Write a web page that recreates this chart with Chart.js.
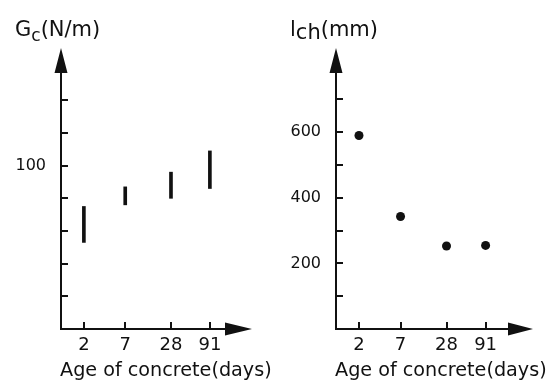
<!DOCTYPE html>
<html>
<head>
<meta charset="utf-8">
<script src="https://cdn.jsdelivr.net/npm/chart.js@4/dist/chart.umd.min.js"></script>
<style>
  html, body { margin: 0; padding: 0; background: #fff; }
  #wrap { position: relative; width: 550px; height: 387px; overflow: hidden; }
  canvas { position: absolute; top: 0; }
  .ytitle { position: absolute; top: 19px; font: 21px "DejaVu Sans", sans-serif; color: #111; line-height: 1; white-space: nowrap; }
  .ytitle sub { font-size: 17px; vertical-align: -5px; line-height: 1; }
  .xtitle { position: absolute; top: 360px; font: 19.2px "DejaVu Sans", sans-serif; color: #111; line-height: 1; white-space: nowrap; }
</style>
</head>
<body>
<div id="wrap">
  <canvas id="gcChart" width="275" height="387" style="left:0"></canvas>
  <canvas id="lchChart" width="275" height="387" style="left:275px"></canvas>
  <div class="ytitle" style="left:15px">G<sub>c</sub>(N/m)</div>
  <div class="ytitle" style="left:290px">l<sub style="font-size:21px;vertical-align:-3px">ch</sub>(mm)</div>
  <div class="xtitle" style="left:60px">Age of concrete(days)</div>
  <div class="xtitle" style="left:335px">Age of concrete(days)</div>
</div>
<script>
// Datos
const days = [2, 7, 28, 91];
const gcMin = [53, 76, 80, 86];
const gcMax = [75, 87, 96, 109];
const lch = [590, 343, 253, 255];

// Marcas de los ejes y cuáles llevan número
const gcTicks = [20, 40, 60, 80, 100, 120, 140];
const gcLabelled = [100];
const lchTicks = [100, 200, 300, 400, 500, 600, 700];
const lchLabelled = [200, 400, 600];

const ink = '#111';
Chart.defaults.font.family = '"DejaVu Sans", sans-serif';
Chart.defaults.color = ink;

// Ejes con flecha y marcas hacia dentro
const arrowAxes = {
    id: 'arrowAxes',
    afterDraw(chart, args, opts) {
        const { ctx, chartArea: a, scales: { x, y } } = chart;
        ctx.save();
        ctx.strokeStyle = ink;
        ctx.fillStyle = ink;
        ctx.lineWidth = 2;
        ctx.beginPath();
        ctx.moveTo(a.left, a.bottom);
        ctx.lineTo(a.left, a.top + 20);
        ctx.moveTo(a.left - 1, a.bottom);
        ctx.lineTo(a.right - 20, a.bottom);
        // marcas
        opts.yTicks.forEach(v => {
            const py = Math.round(y.getPixelForValue(v));
            ctx.moveTo(a.left, py);
            ctx.lineTo(a.left + 7, py);
        });
        days.forEach(d => {
            const px = Math.round(x.getPixelForValue(d));
            ctx.moveTo(px, a.bottom);
            ctx.lineTo(px, a.bottom - 7);
        });
        ctx.stroke();
        // puntas de flecha
        ctx.beginPath();
        ctx.moveTo(a.left, a.top);
        ctx.lineTo(a.left - 6.5, a.top + 25);
        ctx.lineTo(a.left + 6.5, a.top + 25);
        ctx.closePath();
        ctx.moveTo(a.right, a.bottom);
        ctx.lineTo(a.right - opts.xHead, a.bottom - 6.5);
        ctx.lineTo(a.right - opts.xHead, a.bottom + 6.5);
        ctx.closePath();
        ctx.fill();
        ctx.restore();
    }
};

function scalesFor(xMax, yMax, yTicks, yLabelled) {
    return {
        x: {
            type: 'logarithmic',
            min: 1,
            max: xMax,
            grid: { display: false, drawTicks: false },
            border: { display: false },
            afterBuildTicks: s => { s.ticks = days.map(v => ({ value: v })); },
            afterFit: s => { s.height = 58; },
            ticks: { padding: 6, font: { size: 18 }, maxRotation: 0, autoSkip: false, callback: v => String(v) }
        },
        y: {
            min: 0,
            max: yMax,
            grid: { display: false, drawTicks: false },
            border: { display: false },
            afterBuildTicks: s => { s.ticks = yTicks.map(v => ({ value: v })); },
            afterFit: s => { s.width = 61; },
            ticks: { padding: 15, font: { size: 16 }, autoSkip: false, callback: v => yLabelled.includes(v) ? String(v) : '' }
        }
    };
}

const common = {
    responsive: false,
    animation: false,
    plugins: { legend: { display: false }, tooltip: { enabled: false } }
};

new Chart(document.getElementById('gcChart'), {
    type: 'bar',
    data: {
        datasets: [{
            data: days.map((d, i) => ({ x: d, y: [gcMin[i], gcMax[i]] })),
            backgroundColor: ink,
            barThickness: 3,
            borderWidth: 0
        }]
    },
    options: {
        ...common,
        layout: { padding: { left: 0, right: 23, top: 48, bottom: 0 } },
        scales: scalesFor(326, 172, gcTicks, gcLabelled),
        plugins: { ...common.plugins, arrowAxes: { yTicks: gcTicks, xHead: 27 } }
    },
    plugins: [arrowAxes]
});

new Chart(document.getElementById('lchChart'), {
    type: 'scatter',
    data: {
        datasets: [{
            data: days.map((d, i) => ({ x: d, y: lch[i] })),
            backgroundColor: ink,
            borderWidth: 0,
            pointRadius: 4.5
        }]
    },
    options: {
        ...common,
        layout: { padding: { left: 0, right: 17, top: 48, bottom: 0 } },
        scales: scalesFor(380, 857, lchTicks, lchLabelled),
        plugins: { ...common.plugins, arrowAxes: { yTicks: lchTicks, xHead: 25 } }
    },
    plugins: [arrowAxes]
});
</script>
</body>
</html>
